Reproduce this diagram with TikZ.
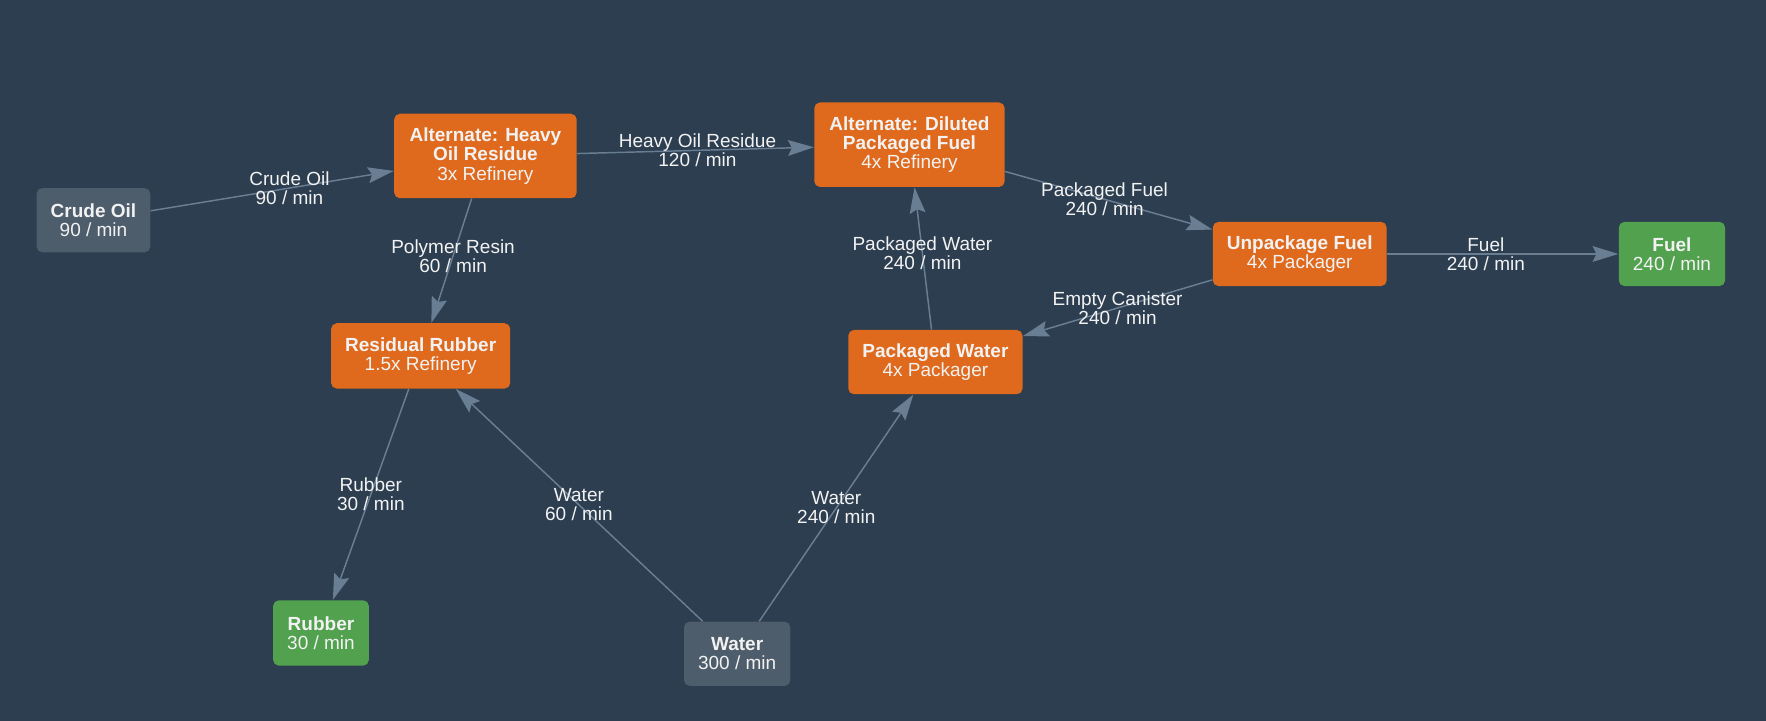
\documentclass[tikz,border=0pt]{standalone}
\usepackage{fontspec}
\setmainfont{Liberation Sans}
\usetikzlibrary{calc,arrows.meta}
\definecolor{bgblue}{HTML}{2C3E50}
\definecolor{recipeorange}{HTML}{DF6A1E}
\definecolor{sourcegray}{HTML}{4E5D6C}
\definecolor{productgreen}{HTML}{52A14F}
\definecolor{edgegray}{HTML}{6A7E93}
\definecolor{nodetext}{HTML}{F2F2F2}
\tikzstyle{box}=[rectangle, rounded corners=1mm, align=center, text=nodetext, inner xsep=2.5mm, inner ysep=0mm, minimum height=11.4mm, font=\fontsize{9.6}{9.7}\selectfont]
\tikzstyle{recipe}=[box, fill=recipeorange]
\tikzstyle{source}=[box, fill=sourcegray]
\tikzstyle{product}=[box, fill=productgreen]
\tikzstyle{flow}=[draw=edgegray, line width=.26mm, -{Stealth[length=4.6mm, width=2.8mm, inset=.7mm]}]
\tikzstyle{rate}=[align=center, text=nodetext, inner sep=0mm, font=\fontsize{9.6}{9.7}\selectfont]

\begin{document}
\begin{tikzpicture}
        \useasboundingbox (0,0) rectangle (31.36,-12.8);
        \fill[bgblue] (0,0) rectangle (31.36,-12.8);

        \node[source, minimum width=20mm] (crude) at (1.66,-3.91) {\textbf{Crude Oil}\\90 / min};
        \node[recipe, minimum width=32.4mm, minimum height=15mm] (heavy) at (8.62,-2.77) {\textbf{Alternate: Heavy}\\\textbf{Oil Residue}\\3x Refinery};
        \node[recipe, minimum width=33.8mm, minimum height=15mm] (diluted) at (16.15,-2.57) {\textbf{Alternate: Diluted}\\\textbf{Packaged Fuel}\\4x Refinery};
        \node[recipe, minimum width=30.8mm] (unpack) at (23.08,-4.51) {\textbf{Unpackage Fuel}\\4x Packager};
        \node[product, minimum width=18.6mm] (fuel) at (29.69,-4.51) {\textbf{Fuel}\\240 / min};
        \node[recipe, minimum width=31.8mm, minimum height=11.6mm] (resrubber) at (7.47,-6.32) {\textbf{Residual Rubber}\\1.5x Refinery};
        \node[recipe, minimum width=30.6mm] (pkwater) at (16.61,-6.43) {\textbf{Packaged Water}\\4x Packager};
        \node[product, minimum width=16.8mm, minimum height=11.6mm] (rubber) at (5.70,-11.24) {\textbf{Rubber}\\30 / min};
        \node[source, minimum width=18.6mm] (water) at (13.09,-11.61) {\textbf{Water}\\300 / min};

        \draw[flow] (crude) -- (heavy);
        \draw[flow] (heavy) -- (diluted);
        \draw[flow] (heavy) -- (resrubber);
        \draw[flow] (diluted) -- (unpack);
        \draw[flow] (pkwater) -- (diluted);
        \draw[flow] (unpack) -- (pkwater);
        \draw[flow] (unpack) -- (fuel);
        \draw[flow] (resrubber) -- (rubber);
        \draw[flow] (water) -- (resrubber);
        \draw[flow] (water) -- (pkwater);

        \node[rate] (lcrude) at ($(crude)!.5!(heavy)$) {Crude Oil\\90 / min};
        \node[rate] (lheavy) at ($(heavy)!.5!(diluted)$) {Heavy Oil Residue\\120 / min};
        \node[rate] (lresin) at ($(heavy)!.5!(resrubber)$) {Polymer Resin\\60 / min};
        \node[rate] (lpkfuel) at ($(diluted)!.5!(unpack)$) {Packaged Fuel\\240 / min};
        \node[rate] (lpkwater) at ($(pkwater)!.5!(diluted)$) {Packaged Water\\240 / min};
        \node[rate] (lcanister) at ($(unpack)!.5!(pkwater)$) {Empty Canister\\240 / min};
        \node[rate] (lfuel) at ($(unpack)!.5!(fuel)$) {Fuel\\240 / min};
        \node[rate] (lrubber) at ($(resrubber)!.5!(rubber)$) {Rubber\\30 / min};
        \node[rate] (lwaterrr) at ($(water)!.5!(resrubber)$) {Water\\60 / min};
        \node[rate] (lwaterpw) at ($(water)!.5!(pkwater)$) {Water\\240 / min};
\end{tikzpicture}
\end{document}
